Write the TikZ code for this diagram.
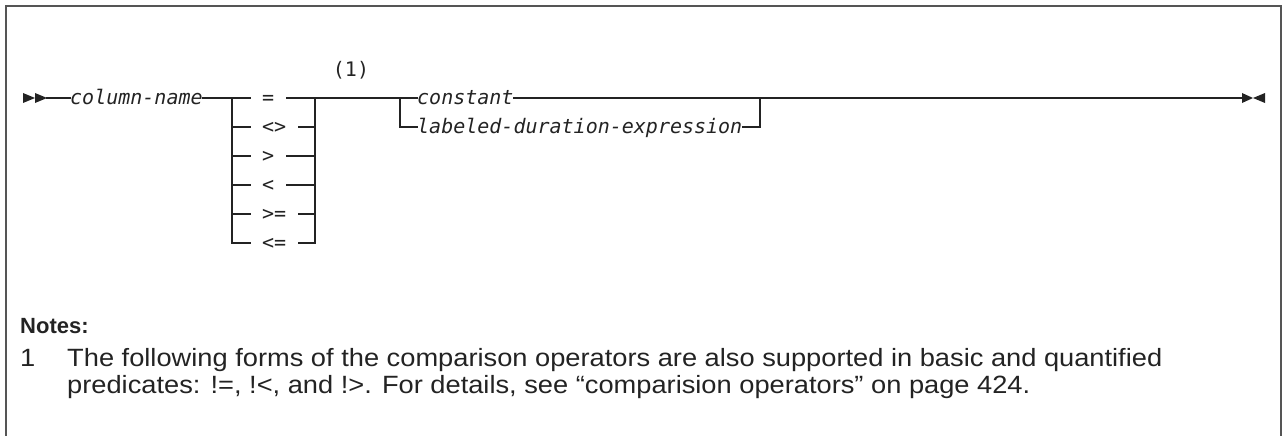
\documentclass[tikz,border=0pt]{standalone}
\usepackage{fontspec}
\newfontfamily\synfont{DejaVu Sans Mono}
\newfontfamily\notefont{Liberation Sans}[FakeStretch=1.09]
\newfontfamily\noteheadfont{Liberation Sans}
\usetikzlibrary{positioning}
\definecolor{framegray}{RGB}{85,85,85}
\definecolor{railblack}{RGB}{35,35,35}
\tikzset{
  syn/.style={font=\synfont\fontsize{20}{24}\selectfont, inner sep=0pt, text height=13pt, text depth=0pt, text=railblack},
  synit/.style={syn, font=\synfont\itshape\fontsize{20}{24}\selectfont},
  opbox/.style={syn, inner xsep=12pt},
  rail/.style={line width=1.3pt, line cap=rect, draw=railblack},
  notes/.style={font=\notefont\fontsize{25}{27.5}\selectfont, inner sep=0pt, text=railblack},
}
\begin{document}
\begin{tikzpicture}[x=1pt,y=-1pt]
            \useasboundingbox (0,0) rectangle (1283,436);
            % frame
            \draw[framegray, line width=2pt] (6,436) -- (6,6) -- (1281,6) -- (1281,436);

            % start and end marks
            \fill[railblack] (23,93) -- (35,98) -- (23,103) -- cycle;
            \fill[railblack] (35,93) -- (47,98) -- (35,103) -- cycle;
            \fill[railblack] (1242,93) -- (1253,98) -- (1242,103) -- cycle;
            \fill[railblack] (1265,93) -- (1253,98) -- (1265,103) -- cycle;
            \coordinate (start) at (47,98);
            \coordinate (finish) at (1242,98);

            % junctions
            \coordinate (splitL) at (232,98);
            \coordinate (splitR) at (315,98);
            \coordinate (altL) at (400,98);
            \coordinate (altR) at (760,98);

            % items
            \node[synit, anchor=west] (colname) at (70,98) {column-name};
            \foreach \op [count=\i] in {=, <>, >, <, >=, <=} {
              \node[opbox, anchor=west] (op\i) at (250,{98+(\i-1)*29}) {\op};
            }
            \node[syn] (fn) at (351,70) {(1)};
            \node[synit, anchor=west] (const) at (417,98) {constant};
            \node[synit, anchor=west] (dur) at (417,127) {labeled-duration-expression};

            % Draw rails
            \draw[rail] (start) -- (colname.west);
            \draw[rail] (colname.east) -- (splitL);
            \draw[rail] (splitL) -- (splitL |- op6);
            \draw[rail] (splitR) -- (splitR |- op6);
            \foreach \i in {1,...,6} {
              \draw[rail] (splitL |- op\i) -- (op\i.west);
              \draw[rail] (op\i.east) -- (splitR |- op\i);
            }
            \draw[rail] (splitR) -- (altL);
            \draw[rail] (altL) -- (const.west);
            \draw[rail] (altL) -- (altL |- dur) -- (dur.west);
            \draw[rail] (const.east) -- (altR);
            \draw[rail] (dur.east) -- (altR |- dur) -- (altR);
            \draw[rail] (altR) -- (finish);

            % Add notes
            \node[notes, font=\noteheadfont\bfseries\fontsize{22}{22}\selectfont, anchor=base west] (notehead) at (20,333) {Notes:};
            \node[notes, anchor=base west] (notenum) at (20,366) {1};
            \node[notes, anchor=base west, align=left] (notetext) at (67,393.5)
              {The following forms of the comparison operators are also supported in basic and quantified\\
               predicates: !=, !<, and !>. For details, see “comparision operators” on page 424.};
\end{tikzpicture}
\end{document}
